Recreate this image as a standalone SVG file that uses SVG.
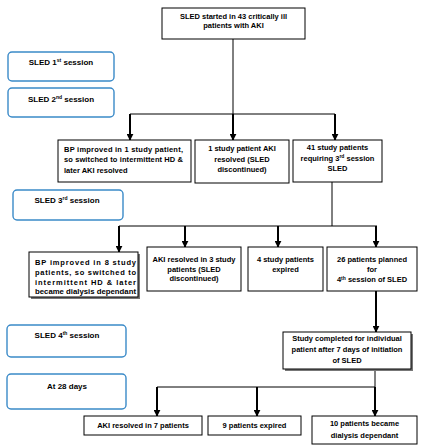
<svg xmlns="http://www.w3.org/2000/svg" width="426" height="445" viewBox="0 0 426 445">
<style>
.bg{fill:#fff}
.box{fill:#fff;stroke:#000;stroke-width:1}
.sess{fill:#fff;stroke:#3a8ac8;stroke-width:1.4}
.shadow{fill:#777}
.t{font-family:"Liberation Sans",Arial,sans-serif;font-weight:bold;font-size:7.5px;fill:#000}
.c{text-anchor:middle}
.s{font-family:"Liberation Sans",Arial,sans-serif;font-weight:bold;font-size:8px;fill:#000;text-anchor:middle}
.sup{font-size:5px}
.ln{fill:none;stroke:#000;stroke-width:1}
.ar{fill:none;stroke:#000;stroke-width:2;marker-end:url(#ah)}
</style>
<defs>
<marker id="ah" viewBox="0 0 10 10" refX="9" refY="5" markerWidth="3.5" markerHeight="3.5" orient="auto" markerUnits="strokeWidth">
<path d="M0,0 L10,5 L0,10 z" fill="#000"/>
</marker>
</defs>
<rect class="bg" x="0" y="0" width="426" height="445"/>

<g id="connectors">
<path class="ln" d="M233,39 V114 M130,114 H335"/>
<path class="ar" d="M130,114 V140"/>
<path class="ar" d="M233,114 V140"/>
<path class="ar" d="M335,114 V140"/>
<path class="ln" d="M332,182 V226 M119,226 H377"/>
<path class="ar" d="M119,226 V252"/>
<path class="ar" d="M185,226 V247"/>
<path class="ar" d="M278,226 V247"/>
<path class="ar" d="M376,226 V247"/>
<path class="ar" d="M376,291 V332"/>
<path class="ln" d="M375,369 V387 M157,387 H375"/>
<path class="ar" d="M157,387 V416"/>
<path class="ar" d="M257,387 V416"/>
<path class="ar" d="M375,387 V416"/>
</g>

<g id="start">
<rect class="box" x="162" y="8" width="143" height="31"/>
<text class="t c" x="233.5" y="18.5">SLED started in 43 critically ill</text>
<text class="t c" x="233.5" y="27.5">patients with AKI</text>
</g>

<g id="sess1">
<rect class="sess" x="8" y="52" width="106" height="29" rx="4"/>
<text class="s" x="61" y="65">SLED 1<tspan class="sup" dy="-3">st</tspan><tspan dy="3"> session</tspan></text>
</g>
<g id="sess2">
<rect class="sess" x="8" y="88" width="106" height="29" rx="4"/>
<text class="s" x="61" y="102">SLED 2<tspan class="sup" dy="-3">nd</tspan><tspan dy="3"> session</tspan></text>
</g>
<g id="sess3">
<rect class="sess" x="13" y="190" width="110" height="30" rx="4"/>
<text class="s" x="67" y="203">SLED 3<tspan class="sup" dy="-3">rd</tspan><tspan dy="3"> session</tspan></text>
</g>
<g id="sess4">
<rect class="sess" x="7" y="325" width="119" height="32" rx="4"/>
<text class="s" x="67" y="338">SLED 4<tspan class="sup" dy="-3">th</tspan><tspan dy="3"> session</tspan></text>
</g>
<g id="day28">
<rect class="sess" x="7" y="374" width="119" height="35" rx="4"/>
<text class="s" x="67" y="389">At 28 days</text>
</g>

<g id="bp1">
<rect class="box" x="58" y="140" width="133" height="42"/>
<text class="t" x="64" y="151.5" textLength="119" lengthAdjust="spacing">BP improved in 1 study patient,</text>
<text class="t" x="64" y="162" textLength="119" lengthAdjust="spacing">so switched to intermittent HD &amp;</text>
<text class="t" x="64" y="173">later AKI resolved</text>
</g>
<g id="aki1">
<rect class="box" x="195" y="140" width="94" height="43"/>
<text class="t c" x="242" y="151">1 study patient AKI</text>
<text class="t c" x="242" y="161.5">resolved (SLED</text>
<text class="t c" x="242" y="172">discontinued)</text>
</g>
<g id="req3">
<rect class="box" x="293" y="140" width="89" height="42"/>
<text class="t c" x="337.5" y="150">41 study patients</text>
<text class="t c" x="337.5" y="160.5">requiring 3<tspan class="sup" dy="-2.5">rd</tspan><tspan dy="2.5"> session</tspan></text>
<text class="t c" x="337.5" y="171">SLED</text>
</g>

<g id="bp8">
<rect class="shadow" x="31" y="254" width="109" height="45"/>
<rect class="box" x="29" y="252" width="109" height="45"/>
<text class="t" x="35" y="264.5" textLength="101" lengthAdjust="spacing">BP improved in 8 study</text>
<text class="t" x="35" y="274.5" textLength="101" lengthAdjust="spacing">patients, so switched to</text>
<text class="t" x="35" y="284.5" textLength="101" lengthAdjust="spacing">intermittent HD &amp; later</text>
<text class="t" x="35" y="294" textLength="101" lengthAdjust="spacingAndGlyphs">became dialysis dependant</text>
</g>
<g id="aki3">
<rect class="box" x="147" y="247" width="94" height="44"/>
<text class="t c" x="194" y="261.5">AKI resolved in 3 study</text>
<text class="t c" x="194" y="271.5">patients (SLED</text>
<text class="t c" x="194" y="281">discontinued)</text>
</g>
<g id="exp4">
<rect class="box" x="248" y="247" width="75" height="44"/>
<text class="t c" x="285.5" y="261.5">4 study patients</text>
<text class="t c" x="285.5" y="271.5">expired</text>
</g>
<g id="plan26">
<rect class="box" x="327" y="247" width="90" height="44"/>
<text class="t c" x="372" y="261.5">26 patients planned</text>
<text class="t c" x="372" y="271.5">for</text>
<text class="t c" x="372" y="282">4<tspan class="sup" dy="-2.5">th</tspan><tspan dy="2.5"> session of SLED</tspan></text>
</g>

<g id="complete">
<rect class="shadow" x="285" y="334" width="128" height="37"/>
<rect class="box" x="283" y="332" width="128" height="37"/>
<text class="t c" x="347" y="340.5">Study completed for individual</text>
<text class="t c" x="347" y="351.5">patient after 7 days of initiation</text>
<text class="t c" x="347" y="363">of SLED</text>
</g>

<g id="aki7">
<rect class="box" x="84" y="416" width="118" height="19"/>
<text class="t c" x="143" y="427.5">AKI resolved in 7 patients</text>
</g>
<g id="exp9">
<rect class="box" x="208" y="416" width="93" height="19"/>
<text class="t c" x="254.5" y="427.5">9 patients expired</text>
</g>
<g id="dep10">
<rect class="box" x="312" y="416" width="105" height="28"/>
<text class="t c" x="364.5" y="426">10 patients became</text>
<text class="t c" x="364.5" y="437.5">dialysis dependant</text>
</g>
</svg>
